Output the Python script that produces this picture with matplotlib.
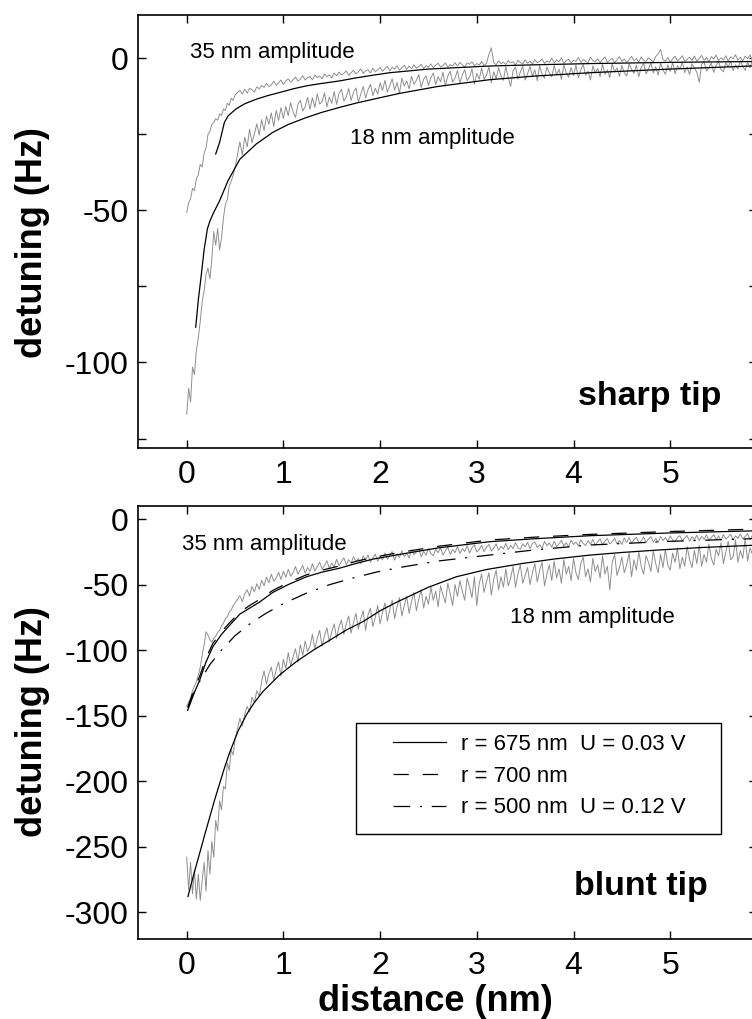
import numpy as np
import matplotlib
matplotlib.use('Agg')
import matplotlib.pyplot as plt
from matplotlib.patches import Rectangle
from matplotlib.ticker import MultipleLocator

plt.rcParams.update({
    'font.family': ['Liberation Sans', 'DejaVu Sans'],
    'axes.unicode_minus': False,
    'axes.linewidth': 1.2,
    'xtick.direction': 'in',
    'ytick.direction': 'in',
    'xtick.top': True,
    'ytick.right': True,
    'xtick.major.size': 6,
    'ytick.major.size': 6,
    'ytick.minor.size': 6,
    'xtick.major.width': 1.0,
    'ytick.major.width': 1.0,
    'ytick.minor.width': 1.0,
    'xtick.labelsize': 23,
    'ytick.labelsize': 23,
    'xtick.major.pad': 9,
    'ytick.major.pad': 7,
    'lines.scale_dashes': False,
})

# ---- measured frequency shift, sharp tip (Hz)
# near part sampled 0..0.5 nm, far part 0.55..5.9 nm
sharp_35_near = [-50.7, -47.5, -46.2, -42.8, -43.5, -39.6, -38.4, -34.9, -35.8, -31.2,
                 -29.5, -25.1, -24.0, -21.8, -21.2, -19.9, -20.4, -18.3, -18.9, -16.7,
                 -17.2, -14.8, -15.5, -13.2, -13.9, -12.1]
sharp_35_far = [
    -10.6, -11.8, -10.2, -11.5, -9.9, -10.4, -11.2, -9.4, -10.1, -9.0,
    -9.6, -8.3, -9.4, -8.8, -7.6, -8.9, -8.1, -7.2, -8.6, -7.5,
    -6.8, -7.9, -7.1, -6.2, -7.6, -6.9, -5.8, -7.2, -6.5, -6.0,
    -7.1, -5.6, -6.4, -5.9, -6.8, -5.2, -6.1, -5.5, -6.6, -4.9,
    -5.8, -4.6, -5.5, -5.0, -4.2, -5.7, -4.8, -4.0, -5.2, -4.5,
    -3.6, -5.0, -4.2, -3.8, -4.9, -3.3, -4.4, -3.9, -3.1, -4.3,
    -3.5, -2.7, -4.2, -3.0, -3.6, -2.5, -3.9, -3.2, -2.4, -3.7,
    -2.6, -3.5, -2.2, -3.3, -2.8, -2.0, -3.4, -2.5, -3.0, -1.9,
    -3.1, -2.3, -1.7, -2.9, -2.4, -1.6, -3.0, -2.1, -2.6, -1.5,
    -2.6, -1.4, -2.2, -2.9, -1.6, -2.0, -1.2, -2.5, -1.8, -2.3,
    -1.1, -2.4, -1.7, 1.2, 3.4, -1.5, -2.2, -0.9, -1.9, -1.3,
    -2.1, -0.8, -1.6, -1.2, -2.3, -0.7, -1.4, -1.9, -0.6, -1.7,
    -1.0, -2.0, -0.5, -1.5, -1.1, -0.3, -1.8, -0.9, -1.4, 0.0,
    -1.6, -0.6, -1.2, 0.1, -1.7, -0.8, -0.4, -1.5, -0.7, -1.1,
    0.2, -1.4, -0.5, -0.9, -1.6, 0.3, -0.8, -1.2, -0.2, -1.5,
    -0.4, 0.4, -1.3, -0.7, -0.1, -1.5, -0.6, 0.5, -1.1, -0.3,
    -1.4, -0.5, 0.6, -0.9, -0.2, -1.3, 0.4, -0.7, -1.1, 0.1,
    -0.6, -1.2, 0.5, 1.4, 2.8, -0.4, -1.0, 0.2, -1.3, -0.3,
    0.6, -0.9, -0.2, 0.8, -1.1, -0.4, 0.3, -0.8, 0.7, -1.0,
    -0.1, 0.9, -0.7, 0.2, -1.2, 0.5, -0.3, 1.0, -0.8, 0.1,
    -0.6, 0.8, -1.0, 0.4, -0.2, 1.1, -0.7, 0.3, -0.9, 0.6,
    -0.2, 1.0, -0.8, 0.5, -0.4]
sharp_18_near = [-117.0, -108.5, -113.0, -101.5, -104.0, -96.0, -92.0, -86.5, -80.0, -76.5,
                 -71.0, -69.0, -72.5, -66.0, -57.0, -61.5, -56.0, -63.0, -59.0, -52.5,
                 -48.0, -46.5, -42.0, -40.5, -38.5, -36.0]
sharp_18_far = [
    -27.5, -31.8, -26.0, -29.2, -23.4, -27.8, -24.9, -21.6, -25.3, -20.2,
    -23.8, -19.1, -21.7, -18.0, -22.5, -17.2, -20.4, -16.3, -19.8, -15.9,
    -18.9, -14.6, -17.7, -19.5, -15.2, -13.8, -17.4, -15.9, -12.9, -16.8,
    -13.0, -16.2, -11.7, -15.1, -14.3, -11.4, -16.0, -12.8, -14.9, -11.0,
    -15.2, -11.6, -10.2, -14.1, -12.7, -10.0, -13.9, -11.2, -9.8, -14.4,
    -11.9, -9.3, -13.1, -10.4, -8.6, -12.3, -9.9, -11.8, -8.1, -10.6,
    -7.3, -11.2, -9.1, -6.8, -10.5, -8.0, -11.6, -6.6, -9.2, -7.5,
    -10.1, -6.0, -8.6, -7.3, -5.4, -9.6, -7.0, -5.8, -9.0, -6.4,
    -4.9, -8.7, -6.1, -7.8, -4.6, -9.2, -5.9, -4.3, -7.9, -6.5,
    -4.1, -8.2, -5.5, -3.8, -7.4, -6.2, -3.5, -8.6, -5.0, -6.9,
    -3.3, -7.0, -5.6, -2.9, -8.1, -4.5, -6.8, -3.1, -5.9, -7.3,
    -2.8, -6.4, -9.3, -4.1, -3.0, -6.9, -4.6, -2.6, -7.2, -5.1,
    -2.7, -6.0, -3.9, -7.4, -2.5, -5.3, -6.6, -2.9, -4.8, -6.2,
    -2.4, -5.5, -3.6, -7.0, -2.2, -4.9, -6.3, -3.1, -5.7, -2.3,
    -6.5, -3.8, -2.1, -5.6, -4.3, -7.2, -2.6, -4.9, -3.4, -6.1,
    -2.0, -5.3, -3.9, -6.4, -1.9, -4.6, -3.2, -6.0, -2.4, -4.8,
    -5.9, -1.8, -3.7, -5.0, -2.3, -6.1, -3.0, -1.7, -5.2, -3.6,
    -1.6, -4.9, -2.8, -5.6, -1.5, -3.9, -5.3, -2.2, -4.4, -1.4,
    -5.1, -2.5, -3.6, -1.3, -4.8, -2.9, -5.4, -1.8, -3.3, -4.6,
    -8.0, -2.0, -1.2, -4.2, -3.1, -1.6, -4.7, -2.4, -1.1, -3.8,
    -4.5, -1.5, -2.9, -1.0, -4.1, -2.2, -3.6, -0.9, -2.7, -4.0,
    -1.3, -3.2, -0.8, -2.5, -3.7]

# fitted curves, sharp tip
sharp_fit35_x = [0.30, 0.34, 0.39, 0.43, 0.51, 0.60, 0.72, 0.84, 0.96, 1.10, 1.24, 1.40,
                 1.58, 1.75, 1.93, 2.10, 2.50, 3.13, 3.60, 4.17, 5.00, 5.92]
sharp_fit35_y = [-31.5, -27.7, -21.1, -18.9, -16.7, -15.0, -13.5, -12.3, -11.3, -10.1, -9.1, -8.3,
                 -7.5, -6.5, -5.6, -4.8, -3.6, -2.6, -2.2, -1.8, -1.4, -1.1]
sharp_fit18_x = [0.093, 0.12, 0.152, 0.18, 0.214, 0.24, 0.272, 0.341, 0.427, 0.55, 0.72, 0.89,
                 1.05, 1.24, 1.40, 1.58, 1.75, 1.93, 2.20, 2.60, 3.13, 3.60, 4.17, 5.00, 5.92]
sharp_fit18_y = [-88.4, -79.5, -70.9, -63.0, -56.1, -53.5, -51.2, -46.8, -40.3, -33.2, -28.2, -24.4,
                 -21.8, -19.5, -17.8, -16.2, -14.8, -13.5, -11.6, -9.3, -7.1, -5.9, -4.8, -3.6, -2.5]

# ---- measured frequency shift, blunt tip (Hz)
blunt_35_near = [-143.0, -139.5, -137.0, -131.0, -127.5, -124.0, -119.0, -113.0, -104.0, -96.0,
                 -86.0, -88.5, -92.0, -94.0, -91.0, -89.5, -86.5, -85.0, -81.5, -79.5,
                 -76.0, -74.5, -71.0, -69.5, -66.0, -64.0]
blunt_35_far = [
    -58.5, -63.0, -57.2, -54.0, -58.8, -51.5, -55.6, -49.3, -53.7, -46.8,
    -50.9, -44.2, -48.6, -42.1, -47.3, -45.0, -40.6, -46.1, -39.8, -44.5,
    -38.4, -43.6, -40.9, -36.2, -42.0, -38.7, -35.5, -41.3, -37.0, -39.9,
    -34.1, -39.5, -36.3, -32.9, -38.2, -35.4, -31.8, -37.6, -33.5, -36.8,
    -30.6, -35.7, -32.4, -29.5, -34.9, -31.0, -33.8, -28.7, -32.6, -30.1,
    -34.2, -28.1, -31.5, -27.3, -33.0, -29.6, -26.8, -32.1, -28.9, -31.2,
    -25.9, -30.6, -27.7, -24.8, -31.3, -26.5, -29.4, -24.2, -28.8, -26.0,
    -29.7, -23.6, -27.2, -25.1, -22.9, -28.8, -24.5, -27.6, -22.4, -26.3,
    -28.0, -23.0, -25.7, -21.8, -27.4, -24.2, -21.5, -26.9, -23.3, -25.6,
    -20.9, -26.2, -22.6, -24.8, -20.3, -25.9, -22.0, -19.8, -25.1, -23.4,
    -20.0, -24.9, -21.5, -19.3, -24.3, -22.2, -18.9, -23.8, -20.7, -22.9,
    -18.5, -23.4, -20.1, -22.6, -18.0, -21.9, -23.0, -19.0, -21.2, -17.8,
    -22.5, -18.6, -17.4, -21.7, -19.6, -22.2, -17.0, -20.4, -18.2, -21.5,
    -16.8, -21.0, -18.9, -16.3, -20.8, -18.1, -21.3, -16.1, -19.4, -17.5,
    -20.6, -15.9, -18.7, -20.2, -16.4, -19.3, -15.5, -20.0, -17.2, -15.1,
    -19.7, -16.8, -14.9, -19.0, -17.4, -14.6, -18.9, -16.2, -19.4, -14.3,
    -17.9, -14.1, -18.6, -15.7, -13.9, -18.2, -16.6, -13.6, -18.0, -15.2,
    -13.4, -17.6, -14.8, -17.9, -13.2, -16.4, -14.0, -17.3, -12.9, -16.0,
    -17.1, -13.8, -12.7, -16.6, -14.6, -12.5, -16.9, -13.5, -15.8, -12.3,
    -16.4, -13.2, -15.5, -12.1, -16.0, -14.1, -11.9, -15.7, -13.0, -16.2,
    -11.8, -15.3, -13.6, -11.6, -15.9, -12.8, -14.9, -11.4, -15.1, -13.3,
    -11.2, -15.6, -12.6, -14.5, -11.0]
blunt_18_near = [-258, -283, -262, -286, -268, -290, -271, -291, -276, -262,
                 -284, -253, -271, -246, -258, -230, -238, -215, -222, -204,
                 -206, -186, -192, -176, -180, -168]
blunt_18_far = [
    -152, -158, -149, -143, -147, -136, -140, -131, -135, -124,
    -116, -126, -118, -113, -123, -115, -109, -120, -107, -114,
    -102, -112, -105, -99, -109, -96, -104, -93, -101, -97,
    -88, -99, -91, -85, -97, -89, -83, -94, -86, -80,
    -91, -82, -77, -88, -80, -74, -87, -79, -72, -84,
    -76, -70, -85, -73, -68, -82, -75, -66, -80, -71,
    -64, -78, -69, -62, -76, -67, -60, -74, -66, -59,
    -72, -63, -56, -70, -61, -54, -68, -59, -65, -52,
    -62, -55, -67, -51, -58, -64, -49, -57, -66, -50,
    -59, -47, -55, -62, -45, -52, -60, -44, -66, -49,
    -42, -56, -48, -41, -58, -46, -39, -54, -44, -52,
    -38, -51, -45, -36, -52, -42, -35, -49, -43, -37,
    -50, -41, -34, -48, -39, -33, -51, -42, -35, -47,
    -32, -45, -38, -49, -31, -42, -36, -47, -30, -41,
    -46, -34, -29, -44, -38, -48, -30, -40, -35, -45,
    -28, -42, -36, -54, -33, -27, -43, -37, -29, -41,
    -35, -26, -44, -31, -39, -25, -36, -42, -28, -33,
    -40, -24, -34, -41, -27, -37, -23, -35, -39, -26,
    -33, -22, -38, -29, -36, -21, -31, -37, -24, -34,
    -20, -36, -27, -33, -19, -30, -35, -23, -28, -18,
    -34, -25, -17, -31, -29, -16, -33, -24, -30, -15,
    -32, -22, -27, -14, -30]

# fitted curves, blunt tip
blunt_fit675_x = [0.01, 0.07, 0.134, 0.20, 0.27, 0.36, 0.445, 0.55, 0.65, 0.75, 0.89, 1.05,
                  1.24, 1.40, 1.58, 1.75, 1.93, 2.20, 2.60, 3.13, 3.60, 4.17, 5.00, 5.92]
blunt_fit675_y = [-146, -134, -123, -109, -97.5, -88, -81, -72.5, -68, -63.5, -56, -50,
                  -44, -40.5, -37.5, -33.9, -30.5, -27, -22, -17.3, -15, -12.7, -10.6, -8.9]
blunt_fit700_y = [-144, -131, -120, -106, -95, -86, -79, -71, -66, -61.5, -54.5, -48.5,
                  -42.5, -39, -35.8, -32.3, -29.2, -25.5, -20.8, -16, -13.8, -11.7, -9.5, -7.6]
blunt_fit500_x = [0.02, 0.10, 0.24, 0.36, 0.50, 0.67, 0.83, 1.00, 1.24, 1.48, 1.72, 1.96,
                  2.20, 2.60, 3.13, 3.60, 4.17, 5.00, 5.92]
blunt_fit500_y = [-143, -128, -111, -100, -89, -79, -71.5, -64.5, -56.5, -50, -45, -40.5,
                  -37, -32, -27.5, -23.5, -19.8, -17, -14.8]
blunt_fit18_x = [0.013, 0.07, 0.134, 0.19, 0.24, 0.29, 0.34, 0.39, 0.445, 0.53, 0.62, 0.70,
                 0.79, 0.96, 1.13, 1.31, 1.48, 1.65, 1.82, 2.00, 2.17, 2.50, 2.79, 3.10,
                 3.48, 3.80, 4.17, 4.50, 4.86, 5.30, 5.92]
blunt_fit18_y = [-288, -272, -255, -240, -227, -214, -202, -190, -178, -162, -149, -140,
                 -131.5, -119, -109, -100, -92.4, -84.7, -78.4, -70, -63.5, -52, -44, -38.5,
                 -33.8, -30.5, -27.5, -25.5, -23.7, -21.8, -19.8]

legend_labels = ['r = 675 nm  U = 0.03 V', 'r = 700 nm', 'r = 500 nm  U = 0.12 V']

GRAY = '#8f8f8f'
DASHED = (0, (11, 10))
DASHDOT = (0, (12, 7, 1.5, 7))


def trace(near, far):
    x = np.concatenate([np.linspace(0.0, 0.5, len(near)), np.linspace(0.55, 5.9, len(far))])
    return x, np.concatenate([near, far])


fig = plt.figure(figsize=(7.52, 10.19), dpi=100)
ax_top = fig.add_axes([0.18398, 0.56065, 0.82301, 0.42414])
ax_bot = fig.add_axes([0.18398, 0.07851, 0.82301, 0.42522])

# sharp tip
for near, far in [(sharp_35_near, sharp_35_far), (sharp_18_near, sharp_18_far)]:
    ax_top.plot(*trace(near, far), color=GRAY, lw=0.7)
ax_top.plot(sharp_fit35_x, sharp_fit35_y, color='black', lw=0.9)
ax_top.plot(sharp_fit18_x, sharp_fit18_y, color='black', lw=0.9)
ax_top.set_xlim(-0.5, 5.9)
ax_top.set_ylim(-128, 14)
ax_top.set_yticks([-100, -50, 0])
ax_top.yaxis.set_minor_locator(MultipleLocator(25))
ax_top.text(0.034, 0.2, '35 nm amplitude', fontsize=16, va='baseline')
ax_top.text(1.69, -28.2, '18 nm amplitude', fontsize=16, va='baseline')
ax_top.text(4.79, -114.1, 'sharp tip', fontsize=24.5, fontweight='bold', ha='center', va='baseline')

# blunt tip
for near, far in [(blunt_35_near, blunt_35_far), (blunt_18_near, blunt_18_far)]:
    ax_bot.plot(*trace(near, far), color=GRAY, lw=0.7)
l1, = ax_bot.plot(blunt_fit675_x, blunt_fit675_y, color='black', lw=0.9, label=legend_labels[0])
l2, = ax_bot.plot(blunt_fit675_x, blunt_fit700_y, color='black', lw=0.9, ls=DASHED, label=legend_labels[1])
l3, = ax_bot.plot(blunt_fit500_x, blunt_fit500_y, color='black', lw=0.9, ls=DASHDOT, label=legend_labels[2])
ax_bot.plot(blunt_fit18_x, blunt_fit18_y, color='black', lw=0.9)
ax_bot.set_xlim(-0.5, 5.9)
ax_bot.set_ylim(-320.5, 10.2)
ax_bot.set_yticks(np.arange(-300, 1, 50))
ax_bot.text(-0.05, -23.7, '35 nm amplitude', fontsize=16, va='baseline')
ax_bot.text(3.34, -79, '18 nm amplitude', fontsize=16, va='baseline')
ax_bot.text(4.70, -287, 'blunt tip', fontsize=24.5, fontweight='bold', ha='center', va='baseline')

ax_bot.add_patch(Rectangle((0.3517, 0.2423), 0.5897, 0.2562, transform=ax_bot.transAxes,
                           facecolor='white', edgecolor='black', lw=1.0, zorder=4))
ax_bot.legend(handles=[l1, l2, l3], loc='upper left', bbox_to_anchor=(0.4115, 0.4731),
              frameon=False, fontsize=16, handlelength=2.4, handletextpad=0.68,
              labelspacing=0.48, borderpad=0, borderaxespad=0).set_zorder(5)

for ax in (ax_top, ax_bot):
    ax.set_xticks(range(6))
    ax.set_ylabel('detuning (Hz)', fontsize=26, fontweight='bold', va='center')
ax_top.yaxis.set_label_coords(-0.1718, 0.4736)
ax_bot.yaxis.set_label_coords(-0.1718, 0.5008)
ax_bot.set_xlabel('distance (nm)', fontsize=26, fontweight='bold')
ax_bot.xaxis.set_label_coords(0.4798, -0.1039)

fig.savefig('out.png', dpi=100)
